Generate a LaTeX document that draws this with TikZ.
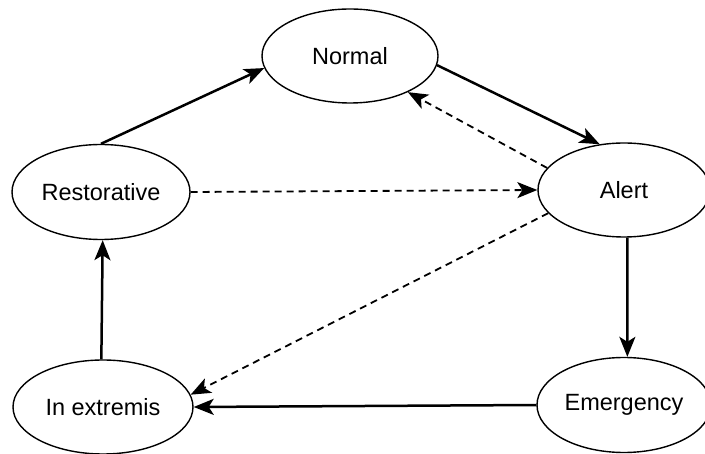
\documentclass[tikz,border=0pt]{standalone}
\usepackage{fontspec}
\setmainfont{Liberation Sans}
\usetikzlibrary{shapes.geometric,arrows.meta}
\begin{document}
\begin{tikzpicture}[x=1pt,y=-1pt,
  state/.style={ellipse,draw,line width=1.4pt,inner sep=0pt,
    minimum width=176pt,minimum height=94pt,
    font=\fontsize{23.5}{28}\selectfont},
  headtip/.style={-{Stealth[length=20pt,width=16pt,inset=5pt]}},
  solidarrow/.style={line width=2.5pt,headtip},
  dasharrow/.style={line width=1.8pt,dash pattern=on 7pt off 5pt,headtip}]
\useasboundingbox (0,0) rectangle (705,454);
\clip (0,0) rectangle (705,454);
\node[state] (norm) at (350,56) {Normal};
\node[state,minimum width=172pt] (alert) at (624,190) {Alert};
\node[state,minimum width=178pt,minimum height=95pt] (rest) at (101,192) {Restorative};
\node[state,minimum width=180pt] (extr) at (103,407) {In extremis};
\node[state,minimum width=174pt,minimum height=95pt] (emerg) at (624,405) {Emergency};
\draw[solidarrow] (rest.north) -- (norm.188);
\draw[solidarrow] (norm.-6) -- (alert.118);
\draw[dasharrow] (alert.164) -- (norm.-32);
\draw[dasharrow] (rest.east) -- (alert.west);
\draw[dasharrow] (alert.197) -- (extr.8);
\draw[solidarrow] (alert.-86) -- (emerg.86);
\draw[solidarrow] (emerg.west) -- (extr.east);
\draw[solidarrow] (extr.92) -- (rest.-88);
\end{tikzpicture}
\end{document}
